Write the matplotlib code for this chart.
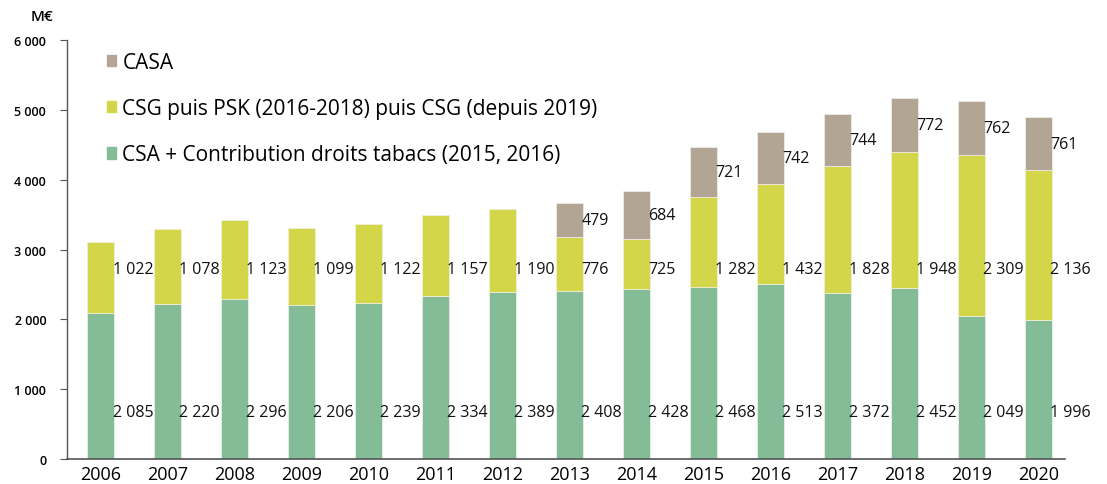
import matplotlib
matplotlib.use("Agg")
import matplotlib.pyplot as plt
from matplotlib.patches import Patch
import numpy as np

years = [str(y) for y in range(2006, 2021)]
csa = [2085, 2220, 2296, 2206, 2239, 2334, 2389, 2408, 2428, 2468, 2513, 2372, 2452, 2049, 1996]
csg = [1022, 1078, 1123, 1099, 1122, 1157, 1190, 776, 725, 1282, 1432, 1828, 1948, 2309, 2136]
casa = [0, 0, 0, 0, 0, 0, 0, 479, 684, 721, 742, 744, 772, 762, 761]

labels = ["CASA", "CSG puis PSK (2016-2018) puis CSG (depuis 2019)",
          "CSA + Contribution droits tabacs (2015, 2016)"]
c_green = "#83bc97"
c_yellow = "#d4d64a"
c_brown = "#b3a594"

plt.rcParams['font.family'] = ['Open Sans', 'DejaVu Sans']


def fmt(v):
    return "{:,}".format(v).replace(",", " ")


fig = plt.figure(figsize=(11.07, 4.85), dpi=100)
ax = fig.add_axes([0.0605, 0.0515, 0.9015, 0.864])

x = np.arange(len(years))
w = 0.4
csa = np.array(csa)
csg = np.array(csg)
casa = np.array(casa)

ax.bar(x, csa, w, color=c_green, edgecolor="#e8efe8", linewidth=0.6)
ax.bar(x, csg, w, bottom=csa, color=c_yellow, edgecolor="#eeeed8", linewidth=0.6)
ax.bar(x[casa > 0], casa[casa > 0], w, bottom=(csa + csg)[casa > 0],
       color=c_brown, edgecolor="#efebe6", linewidth=0.6)

# value labels, to the right of each bar
for i in range(len(years)):
    xr = x[i] + w / 2 - 0.02
    ax.text(xr, 680, fmt(csa[i]), ha="left", va="center", fontsize=11.5,
            color="#111111")
    ax.text(xr, 2720, fmt(csg[i]), ha="left", va="center", fontsize=11.5,
            color="#111111")
    if casa[i] > 0:
        ax.text(xr, csa[i] + csg[i] + casa[i] / 2, fmt(casa[i]),
                ha="left", va="center", fontsize=11.5, color="#111111")

ax.set_xlim(-0.5, 14.4)
ax.set_ylim(0, 6000)
ax.set_yticks(range(0, 6001, 1000))
ax.set_yticklabels([fmt(v) for v in range(0, 6001, 1000)], fontsize=9,
                   fontweight="semibold")
ax.set_xticks(x)
ax.set_xticklabels(years, fontsize=13)
ax.tick_params(axis="x", length=0, pad=4)
ax.tick_params(axis="y", length=5, width=0.8, color="#555555", pad=10)
for s in ["top", "right"]:
    ax.spines[s].set_visible(False)
ax.spines["left"].set_color("#555555")
ax.spines["bottom"].set_color("#555555")
ax.spines["left"].set_linewidth(1)
ax.spines["bottom"].set_linewidth(1.2)

fig.text(0.028, 0.965, "M€", fontsize=11, fontweight="semibold", va="center")

# legend
handles = [Patch(color=c_brown), Patch(color=c_yellow), Patch(color=c_green)]
ax.legend(handles, labels, loc="upper left", bbox_to_anchor=(0.021, 1.017),
          frameon=False, fontsize=15, handlelength=0.45, handleheight=0.45,
          handletextpad=0.3, labelspacing=1.22)

fig.savefig("out.png", dpi=100)
